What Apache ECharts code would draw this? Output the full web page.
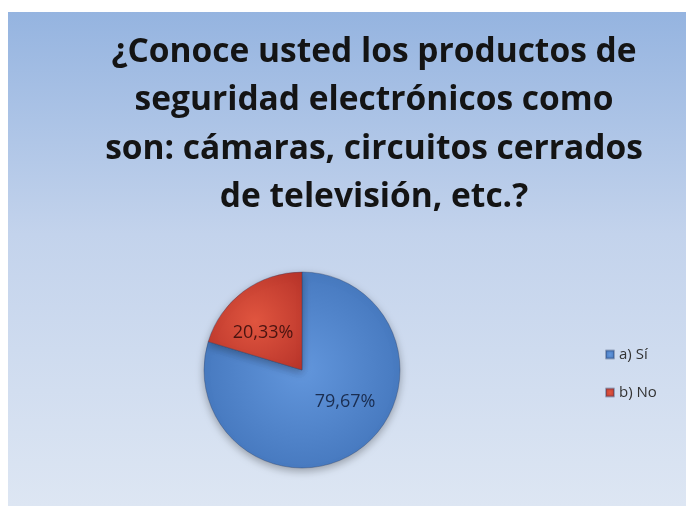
<!DOCTYPE html>
<html>
<head>
<meta charset="utf-8">
<script src="https://cdn.jsdelivr.net/npm/echarts@6/dist/echarts.min.js"></script>
<style>
  html, body { margin: 0; padding: 0; background: #fff; }
  #pieChart { width: 686px; height: 506px; }
</style>
</head>
<body>
<div id="pieChart"></div>
<script>
const titleText = '¿Conoce usted los productos de\nseguridad electrónicos como\nson: cámaras, circuitos cerrados\nde televisión, etc.?'
const categories = ['a) Sí', 'b) No']
const values = [79.67, 20.33]
const sliceColors = [
  ['#6296dc', '#3d6fb5'],
  ['#e0553f', '#b8342a']
]
const labelColors = ['#1a2d50', '#4a1410']
// nudge labels to where the original puts them
const labelShift = [[12, -10], [-8, 5]]

const chart = echarts.init(document.getElementById('pieChart'))

chart.setOption({
  animation: false,
  graphic: [
    {
      type: 'rect',
      z: -10,
      shape: { x: 8, y: 12, width: 678, height: 494 },
      style: {
        fill: new echarts.graphic.LinearGradient(0, 0, 0, 1, [
          { offset: 0, color: '#95b4e0' },
          { offset: 0.45, color: '#c3d3ec' },
          { offset: 1, color: '#dde6f3' }
        ])
      }
    }
  ],
  title: {
    text: titleText,
    left: 369,
    top: 23,
    textAlign: 'center',
    textStyle: {
      fontFamily: 'Open Sans',
      fontWeight: 'bold',
      fontSize: 33.5,
      lineHeight: 48.5,
      color: '#141414'
    }
  },
  legend: {
    orient: 'vertical',
    left: 600,
    top: 342,
    itemWidth: 8,
    itemHeight: 8,
    itemGap: 23,
    icon: 'rect',
    textStyle: {
      fontFamily: 'Open Sans',
      fontSize: 15,
      color: '#333'
    },
    data: categories
  },
  series: [
    {
      type: 'pie',
      center: [302, 370],
      radius: 98,
      startAngle: 90,
      clockwise: true,
      label: {
        position: 'inside',
        formatter: (p) => p.value.toFixed(2).replace('.', ',') + '%',
        fontFamily: 'Open Sans',
        fontSize: 18
      },
      labelLine: { show: false },
      labelLayout: (p) => ({ dx: labelShift[p.dataIndex][0], dy: labelShift[p.dataIndex][1] }),
      itemStyle: {
        borderColor: 'rgba(40,60,100,0.35)',
        borderWidth: 1,
        shadowBlur: 8,
        shadowOffsetY: 3,
        shadowColor: 'rgba(0,0,0,0.3)'
      },
      data: categories.map((name, i) => ({
        name: name,
        value: values[i],
        itemStyle: {
          color: new echarts.graphic.RadialGradient(0.5, 0.5, 0.7, [
            { offset: 0, color: sliceColors[i][0] },
            { offset: 1, color: sliceColors[i][1] }
          ])
        },
        label: { color: labelColors[i] }
      }))
    }
  ]
})
</script>
</body>
</html>
